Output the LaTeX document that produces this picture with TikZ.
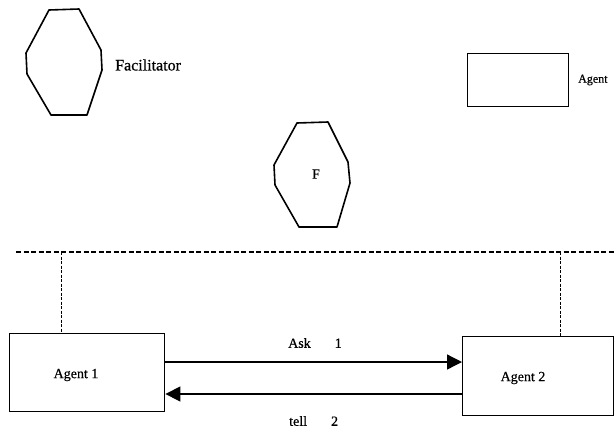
\documentclass[tikz,border=0pt]{standalone}
\usepackage{fontspec}
\setmainfont{Liberation Serif}[FakeBold=0.5]
\usetikzlibrary{arrows.meta}
\begin{document}
\begin{tikzpicture}[x=1pt,y=-1pt,
  shapeline/.style={line width=1.6pt, line join=round},
  box/.style={draw, line width=1.4pt, minimum width=#1, inner sep=0pt, anchor=north west},
  lbl/.style={font=\fontsize{14}{16}\selectfont, inner sep=0pt},
  dashline/.style={line width=1.1pt, dash pattern=on 5pt off 2.5pt},
  stub/.style={line width=0.9pt, dash pattern=on 3pt off 1.5pt},
  msg/.style={line width=1.3pt, -{Triangle[length=15pt,width=15pt]}}]
\useasboundingbox (0,0) rectangle (616,429);
% legend: facilitator octagon
\draw[shapeline] (49,10) -- (79,9) -- (101,50) -- (102,70) -- (87,115) -- (51,115) -- (27,74) -- (26,53) -- cycle;
\node[lbl, anchor=west, font=\fontsize{16}{18}\selectfont] (faclbl) at (115,65) {Facilitator};
% legend: agent rectangle
\node[box=101pt, minimum height=53pt] (agentlegend) at (467,53) {};
\node[lbl, anchor=west, font=\fontsize{12}{14}\selectfont] (agentlbl) at (578,80) {Agent};
% central facilitator
\draw[shapeline] (297,123) -- (328,122) -- (348,162) -- (350,183) -- (337,227) -- (299,227) -- (275,185) -- (274,165) -- cycle;
\node[lbl] (flbl) at (316,174) {F};
% dashed bus
\coordinate (busL) at (16,252);
\coordinate (busR) at (616,252);
\draw[dashline] (busL) -- (busR);
% agents
\node[box=155pt, minimum height=78pt] (a1) at (9,333) {};
\node[box=151pt, minimum height=79pt] (a2) at (462,336) {};
\node[lbl] (a1lbl) at (76,375) {Agent 1};
\node[lbl] (a2lbl) at (523,378) {Agent 2};
\coordinate (t1) at (61,252);
\coordinate (t2) at (560,252);
\draw[stub] (t1) -- (t1 |- a1.north);
\draw[stub] (t2) -- (t2 |- a2.north);
% messages
\draw[msg] (a1.east |- 0,362) -- (a2.west |- 0,362);
\draw[msg] (a2.west |- 0,394) -- (a1.east |- 0,394);
\node[lbl, anchor=west] (asklbl) at (288,343) {Ask\hspace{24pt}1};
\node[lbl, anchor=west] (telllbl) at (289,421) {tell\hspace{24pt}2};
\end{tikzpicture}
\end{document}
